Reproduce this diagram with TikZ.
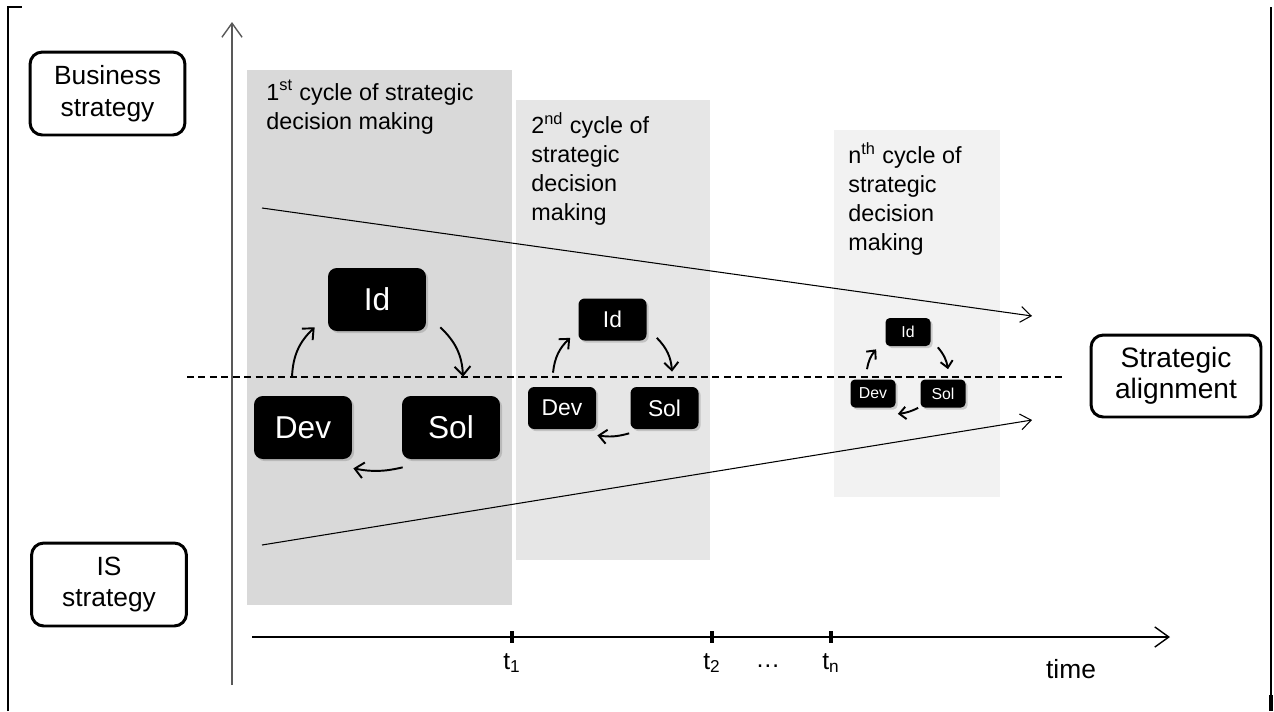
\documentclass[tikz,border=0pt]{standalone}
\usepackage{fontspec}
\setmainfont{Liberation Sans}
\usepackage{xcolor}
\definecolor{cycA}{HTML}{D9D9D9}
\definecolor{cycB}{HTML}{E6E6E6}
\definecolor{cycC}{HTML}{F2F2F2}
\definecolor{axisgray}{HTML}{595959}
\usetikzlibrary{arrows.meta,positioning,shadows}

\begin{document}
\begin{tikzpicture}[x=0.02cm,y=-0.02cm,
  strat/.style={draw,line width=1.7pt,rounded corners=7pt,align=center,inner sep=0pt,
    minimum width=3.1cm,minimum height=1.66cm,font=\fontsize{15}{18}\selectfont},
  stage/.style={fill=black,text=white,inner sep=0pt,
    drop shadow={shadow xshift=1.2pt,shadow yshift=-1.2pt,opacity=0.35}},
  stageA/.style={stage,rounded corners=5pt,minimum width=1.96cm,minimum height=1.26cm,font=\fontsize{18}{18}\selectfont},
  stageB/.style={stage,rounded corners=3.5pt,minimum width=1.36cm,minimum height=0.84cm,font=\fontsize{13}{13}\selectfont},
  stageC/.style={stage,rounded corners=2.5pt,minimum width=0.9cm,minimum height=0.56cm,font=\fontsize{9}{9}\selectfont},
  turnA/.style={-{Straight Barb[length=5pt,width=9pt]},line width=1.1pt},
  turnB/.style={-{Straight Barb[length=4.5pt,width=8pt]},line width=1.1pt},
  turnC/.style={-{Straight Barb[length=3.8pt,width=7pt]},line width=1.1pt},
  axis/.style={draw=axisgray,line width=0.8pt,-{Straight Barb[length=8pt,width=11.5pt]}},
  trend/.style={line width=0.6pt,-{Straight Barb[length=6pt,width=9pt]}},
  cyctext/.style={anchor=north west,align=left,inner sep=0pt,font=\fontsize{13.3}{16.5}\selectfont},
  tlabel/.style={inner sep=0pt,font=\fontsize{14}{14}\selectfont},
]
  \useasboundingbox (0,0) rectangle (1274,711);

  % Frame
  \draw[line width=1.4pt] (8,711) -- (8,7) -- (22,7);
  \draw[line width=1.4pt] (1271,7) -- (1271,711);
  \fill (1269,695) rectangle (1273,711);

  % Cycles of decision making
  \fill[cycA] (247,70) rectangle (512,605);
  \fill[cycB] (516,100) rectangle (710,560);
  \fill[cycC] (834,130) rectangle (1000,497);
  \node[cyctext] (txt1) at (266,80) {1\textsuperscript{st} cycle of strategic\\decision making};
  \node[cyctext] (txt2) at (531,112) {2\textsuperscript{nd} cycle of\\strategic\\decision\\making};
  \node[cyctext] (txt3) at (848,142) {n\textsuperscript{th} cycle of\\strategic\\decision\\making};

  % Axes
  \coordinate (vbot) at (232,685);
  \coordinate (vtop) at (232,22);
  \coordinate (hleft) at (252,637);
  \coordinate (hright) at (1170,637);
  \draw[axis] (vbot) -- (vtop);
  \draw[axis,draw=black] (hleft) -- (hright);

  % Strategies and alignment
  \node[strat] (bus) at (107.5,93.5) {Business\\strategy};
  \node[strat] (is) at (109,584.5) {IS\\strategy};
  \node[strat,minimum width=3.4cm,minimum height=1.64cm,font=\fontsize{16}{17.5}\selectfont] (align) at (1176,376) {Strategic\\alignment};

  \coordinate (dashl) at (187,377);
  \coordinate (dashr) at (1063,377);
  \draw[dashed,dash pattern=on 4pt off 2.5pt,line width=0.6pt] (dashl) -- (dashr);

  \coordinate (up0) at (262,208);
  \coordinate (up1) at (1032,316);
  \coordinate (lo0) at (262,545);
  \coordinate (lo1) at (1032,420);
  \draw[trend] (up0) -- (up1);
  \draw[trend] (lo0) -- (lo1);

  % 1st cycle
  \node[stageA] (id1) at (377,299.5) {Id};
  \node[stageA] (dev1) at (303,427.5) {Dev};
  \node[stageA] (sol1) at (451,427.5) {Sol};
  \draw[turnA] ([xshift=-0.22cm,yshift=0.38cm]dev1.north) to[bend left=22] ([xshift=-0.26cm,yshift=0.08cm]id1.south west);
  \draw[turnA] ([xshift=0.28cm,yshift=0.08cm]id1.south east) to[bend left=22] ([xshift=0.24cm,yshift=0.38cm]sol1.north);
  \draw[turnA] ([xshift=0.02cm,yshift=-0.16cm]sol1.south west) to[bend left=12] ([xshift=0.02cm,yshift=-0.18cm]dev1.south east);

  % 2nd cycle
  \node[stageB] (id2) at (612.5,319.5) {Id};
  \node[stageB] (dev2) at (562,408) {Dev};
  \node[stageB] (sol2) at (664.5,408) {Sol};
  \draw[turnB] ([xshift=-0.18cm,yshift=0.28cm]dev2.north) to[bend left=20] ([xshift=-0.16cm,yshift=0.06cm]id2.south west);
  \draw[turnB] ([xshift=0.2cm,yshift=0.06cm]id2.south east) to[bend left=20] ([xshift=0.15cm,yshift=0.3cm]sol2.north);
  \draw[turnB] ([xshift=-0.02cm,yshift=-0.08cm]sol2.south west) to[bend left=12] ([xshift=0.02cm,yshift=-0.12cm]dev2.south east);

  % nth cycle
  \node[stageC] (id3) at (908,332) {Id};
  \node[stageC] (dev3) at (873,393.5) {Dev};
  \node[stageC] (sol3) at (943,393.5) {Sol};
  \draw[turnC] ([xshift=-0.12cm,yshift=0.2cm]dev3.north) to[bend left=15] ([xshift=-0.18cm,yshift=-0.06cm]id3.south west);
  \draw[turnC] ([xshift=0.14cm,yshift=-0.02cm]id3.south east) to[bend left=15] ([xshift=0.1cm,yshift=0.2cm]sol3.north);
  \draw[turnC] ([xshift=-0.04cm]sol3.south west) to[bend left=10] ([xshift=0.04cm,yshift=-0.12cm]dev3.south east);

  % Time marks
  \node[fill=black,inner sep=0pt,minimum width=0.08cm,minimum height=0.24cm] (tk1) at (512,637) {};
  \node[fill=black,inner sep=0pt,minimum width=0.08cm,minimum height=0.24cm] (tk2) at (712,637) {};
  \node[fill=black,inner sep=0pt,minimum width=0.08cm,minimum height=0.24cm] (tkn) at (831,637) {};
  \node[tlabel] (lt1) at (512,663) {t\textsubscript{1}};
  \node[tlabel] (lt2) at (712,663) {t\textsubscript{2}};
  \node[tlabel] (ldots) at (768,666) {\dots};
  \node[tlabel] (ltn) at (831,663) {t\textsubscript{n}};
  \node[tlabel,font=\fontsize{15}{15}\selectfont] (time) at (1071,669) {time};
\end{tikzpicture}
\end{document}
